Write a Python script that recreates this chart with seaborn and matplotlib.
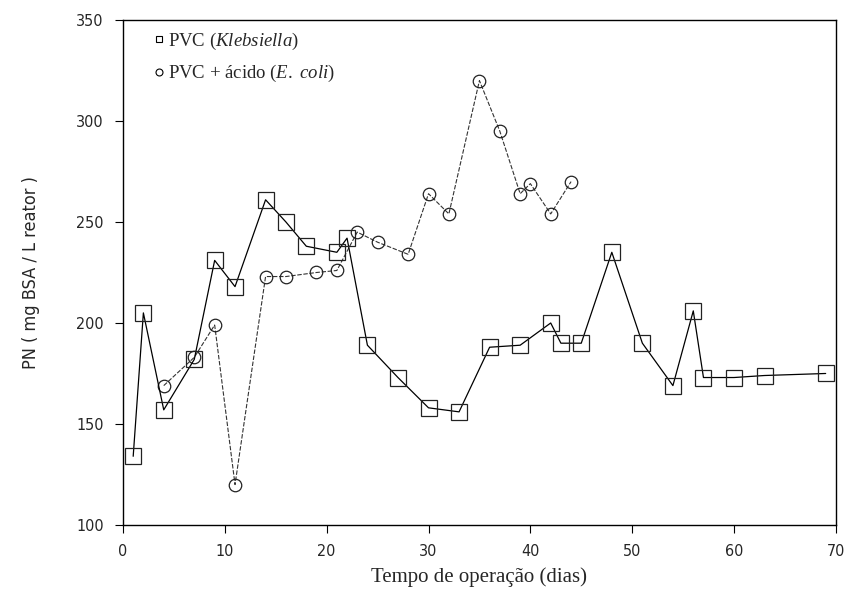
import matplotlib
matplotlib.use("Agg")
import matplotlib.pyplot as plt
from matplotlib import font_manager
from matplotlib.font_manager import FontProperties
from matplotlib.lines import Line2D
import seaborn as sns
import pandas as pd

# Data
kleb_days = [1, 2, 4, 7, 9, 11, 14, 16, 18, 21, 22, 24, 27, 30, 33, 36, 39, 42, 43, 45, 48, 51, 54, 56, 57, 60, 63, 69]
kleb_pn = [134, 205, 157, 182, 231, 218, 261, 250, 238, 235, 242, 189, 173, 158, 156, 188, 189, 200, 190, 190, 235, 190, 169, 206, 173, 173, 174, 175]
ecoli_days = [4, 7, 9, 11, 14, 16, 19, 21, 23, 25, 28, 30, 32, 35, 37, 39, 40, 42, 44]
ecoli_pn = [169, 183, 199, 120, 223, 223, 225, 226, 245, 240, 234, 264, 254, 320, 295, 264, 269, 254, 270]
x_ticks = [0, 10, 20, 30, 40, 50, 60, 70]
y_ticks = [100, 150, 200, 250, 300, 350]

sns.set_style("ticks")
plt.rcParams["mathtext.fontset"] = "custom"
plt.rcParams["mathtext.it"] = "Liberation Serif:italic"
plt.rcParams["mathtext.rm"] = "Liberation Serif"
plt.rcParams["mathtext.bf"] = "Liberation Serif:bold"

names = {f.name for f in font_manager.fontManager.ttflist}
if "Liberation Sans Narrow" in names:
    narrow = FontProperties(family="Liberation Sans Narrow", size=12)
else:
    narrow = FontProperties(family="DejaVu Sans", stretch="condensed", size=11.5)
serif = "Liberation Serif"

fig = plt.figure(figsize=(8.46, 6.01), dpi=100)
ax = fig.add_axes([0.1454, 0.1265, 0.8426, 0.8402])

df_k = pd.DataFrame({"dias": kleb_days, "PN": kleb_pn})
df_e = pd.DataFrame({"dias": ecoli_days, "PN": ecoli_pn})

sns.lineplot(data=df_e, x="dias", y="PN", ax=ax, color="#333333", lw=0.8,
             linestyle=(0, (4, 1.5)), marker="o", markersize=9,
             markerfacecolor="none", markeredgecolor="#222222", markeredgewidth=0.9)
sns.lineplot(data=df_k, x="dias", y="PN", ax=ax, color="black", lw=0.9,
             marker="s", markersize=11.5, markerfacecolor="none",
             markeredgecolor="#222222", markeredgewidth=0.9)

ax.set_xlim(0, 70)
ax.set_ylim(100, 350)
ax.set_xticks(x_ticks)
ax.set_yticks(y_ticks)
ax.set_xticklabels([str(t) for t in x_ticks], fontproperties=narrow)
ax.set_yticklabels([str(t) for t in y_ticks], fontproperties=narrow)
ax.tick_params(direction="out", length=6, width=0.8, pad=8, color="black")
for s in ax.spines.values():
    s.set_visible(True)
    s.set_linewidth(1.0)
    s.set_color("black")

ax.set_xlabel("Tempo de operação (dias)", family=serif, fontsize=15, labelpad=6)
ylab_fp = narrow.copy()
ylab_fp.set_size(13)
ax.set_ylabel("PN ( mg BSA / L reator )", fontproperties=ylab_fp, labelpad=26)

handles = [
    Line2D([], [], linestyle="none", marker="s", markersize=5, markerfacecolor="none",
           markeredgecolor="black", markeredgewidth=0.8),
    Line2D([], [], linestyle="none", marker="o", markersize=5, markerfacecolor="none",
           markeredgecolor="black", markeredgewidth=0.8),
]
labels = ["PVC ($\\mathit{Klebsiella}$)", "PVC + ácido ($\\mathit{E.}$ $\\mathit{coli}$)"]
leg = ax.legend(handles, labels, loc="upper left", bbox_to_anchor=(0.02, 1.012),
                frameon=False, handlelength=0.5, handletextpad=0.25, labelspacing=0.6,
                prop={"family": serif, "size": 13.5})

fig.savefig("out.png", dpi=100, facecolor="white")
